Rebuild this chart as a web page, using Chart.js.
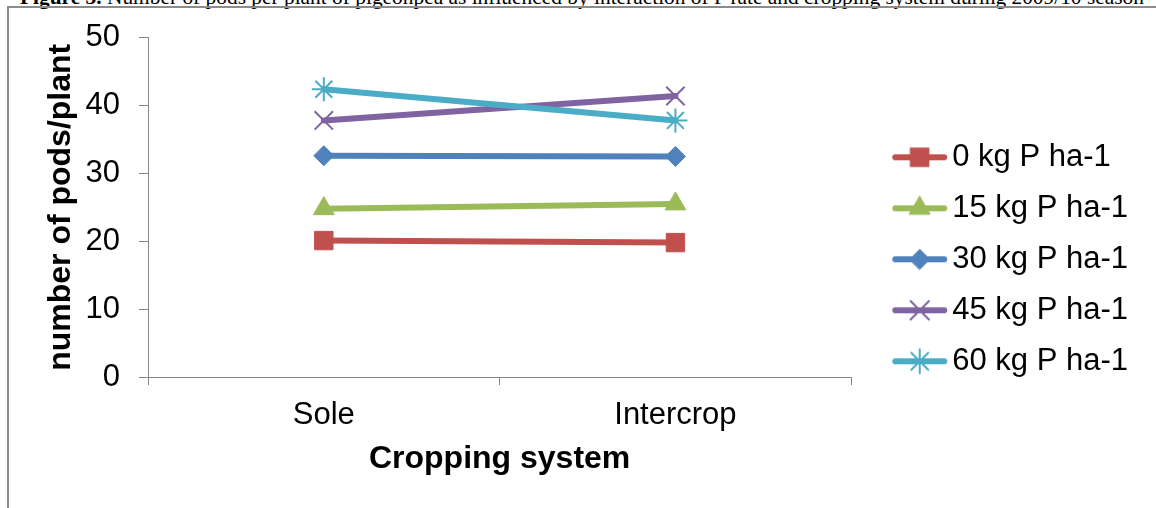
<!DOCTYPE html>
<html>
<head>
<meta charset="utf-8">
<script src="https://cdn.jsdelivr.net/npm/chart.js@4.4.1/dist/chart.umd.min.js"></script>
<style>
  html, body { margin: 0; padding: 0; background: #fff; }
  body { width: 1156px; height: 508px; position: relative; overflow: hidden; }
  #caption { position: absolute; left: 20px; top: -13px; font-family: 'Liberation Serif', 'Times New Roman', serif; font-size: 21.4px; line-height: 20px; white-space: nowrap; color: #000; }
  #frame { position: absolute; left: 7px; top: 6px; right: 0; bottom: 0; border-top: 2px solid #8c8c8c; border-left: 2px solid #8c8c8c; }
  #wrap { position: absolute; left: 0; top: 0; width: 1156px; height: 508px; }
</style>
</head>
<body>
<div id="caption"><b>Figure 3.</b> Number of pods per plant of pigeonpea as influenced by interaction of P rate and cropping system during 2009/10 season</div>
<div id="frame"></div>
<div id="wrap"><canvas id="chart" width="1156" height="508"></canvas></div>
<script>
'use strict';

// categories on the x axis
const categories = ['Sole', 'Intercrop'];

// number of pods per plant, one array per P rate
const pods0 = [20.1, 19.8];
const pods15 = [24.8, 25.5];
const pods30 = [32.6, 32.5];
const pods45 = [37.8, 41.4];
const pods60 = [42.4, 37.8];

const seriesNames = ['0 kg P ha-1', '15 kg P ha-1', '30 kg P ha-1', '45 kg P ha-1', '60 kg P ha-1'];

// y axis range and step
const yMin = 0;
const yMax = 50;
const yStep = 10;

const fontName = "'Liberation Sans', Arial, sans-serif";
const axisGrey = '#868686';

const seriesData = [pods0, pods15, pods30, pods45, pods60];
const colores = ['#C0504D', '#9BBB59', '#4F81BD', '#8064A2', '#4BACC6'];
const estilos = ['rect', 'triangle', 'rectRot', 'crossRot', 'star'];
const radios = [13, 12, 10, 13, 12];
const bordes = [1, 1, 1, 2, 2];

// small picture for the legend: line with the marker in the middle
function iconoLeyenda(color, estilo, radio, borde) {
    const c = document.createElement('canvas');
    c.width = 90;
    c.height = 30;
    const g = c.getContext('2d');
    g.strokeStyle = color;
    g.lineWidth = 6;
    g.lineCap = 'round';
    g.beginPath();
    g.moveTo(36.25, 15);
    g.lineTo(85.25, 15);
    g.stroke();
    g.fillStyle = color;
    g.lineWidth = borde;
    if (Chart.helpers && Chart.helpers.drawPoint) {
        Chart.helpers.drawPoint(g, { pointStyle: estilo, radius: radio, rotation: 0, borderWidth: borde }, 60.75, 15);
    }
    return c;
}

const iconos = colores.map((col, i) => iconoLeyenda(col, estilos[i], radios[i], bordes[i]));

const datasets = seriesData.map((datos, i) => ({
    label: seriesNames[i],
    data: datos,
    borderColor: colores[i],
    backgroundColor: colores[i],
    borderWidth: 6,
    borderCapStyle: 'round',
    pointStyle: estilos[i],
    pointRadius: radios[i],
    pointBorderWidth: bordes[i],
    pointBackgroundColor: colores[i],
    pointBorderColor: colores[i],
    order: -i
}));

// move the legend down to where it sits in the original
const legendShift = {
    id: 'legendShift',
    afterLayout(chart) {
        chart.legend.top += 52;
        chart.legend.bottom += 52;
    }
};

new Chart(document.getElementById('chart'), {
    type: 'line',
    data: { labels: categories, datasets: datasets },
    plugins: [legendShift],
    options: {
        responsive: false,
        animation: false,
        events: [],
        layout: { padding: { top: 37, right: 21, bottom: 0, left: 0 } },
        plugins: {
            tooltip: { enabled: false },
            legend: {
                position: 'right',
                fullSize: false,
                labels: {
                    usePointStyle: true,
                    pointStyleWidth: 65.5,
                    padding: 20,
                    color: '#000',
                    font: { family: fontName, size: 31 },
                    sort: (a, b) => a.datasetIndex - b.datasetIndex,
                    generateLabels(chart) {
                        const items = Chart.defaults.plugins.legend.labels.generateLabels(chart);
                        items.forEach(it => { it.pointStyle = iconos[it.datasetIndex]; });
                        return items;
                    }
                }
            }
        },
        scales: {
            x: {
                offset: true,
                grid: { offset: true, drawOnChartArea: false, tickLength: 8, color: axisGrey },
                border: { color: axisGrey },
                ticks: { color: '#000', padding: 12, font: { family: fontName, size: 31 } },
                title: {
                    display: true,
                    text: 'Cropping system',
                    color: '#000',
                    font: { family: fontName, size: 32, weight: 'bold' },
                    padding: { top: 0, bottom: 30 }
                },
                afterFit(scale) { scale.height = 131; }
            },
            y: {
                min: yMin,
                max: yMax,
                grid: { drawOnChartArea: false, tickLength: 9, color: axisGrey },
                border: { color: axisGrey },
                ticks: { stepSize: yStep, color: '#000', padding: 19, font: { family: fontName, size: 31 } },
                title: {
                    display: true,
                    text: 'number of pods/plant',
                    color: '#000',
                    font: { family: fontName, size: 32, weight: 'bold' },
                    padding: { top: 42, bottom: 0 }
                },
                afterFit(scale) { scale.width = 148; }
            }
        }
    }
});
</script>
</body>
</html>
